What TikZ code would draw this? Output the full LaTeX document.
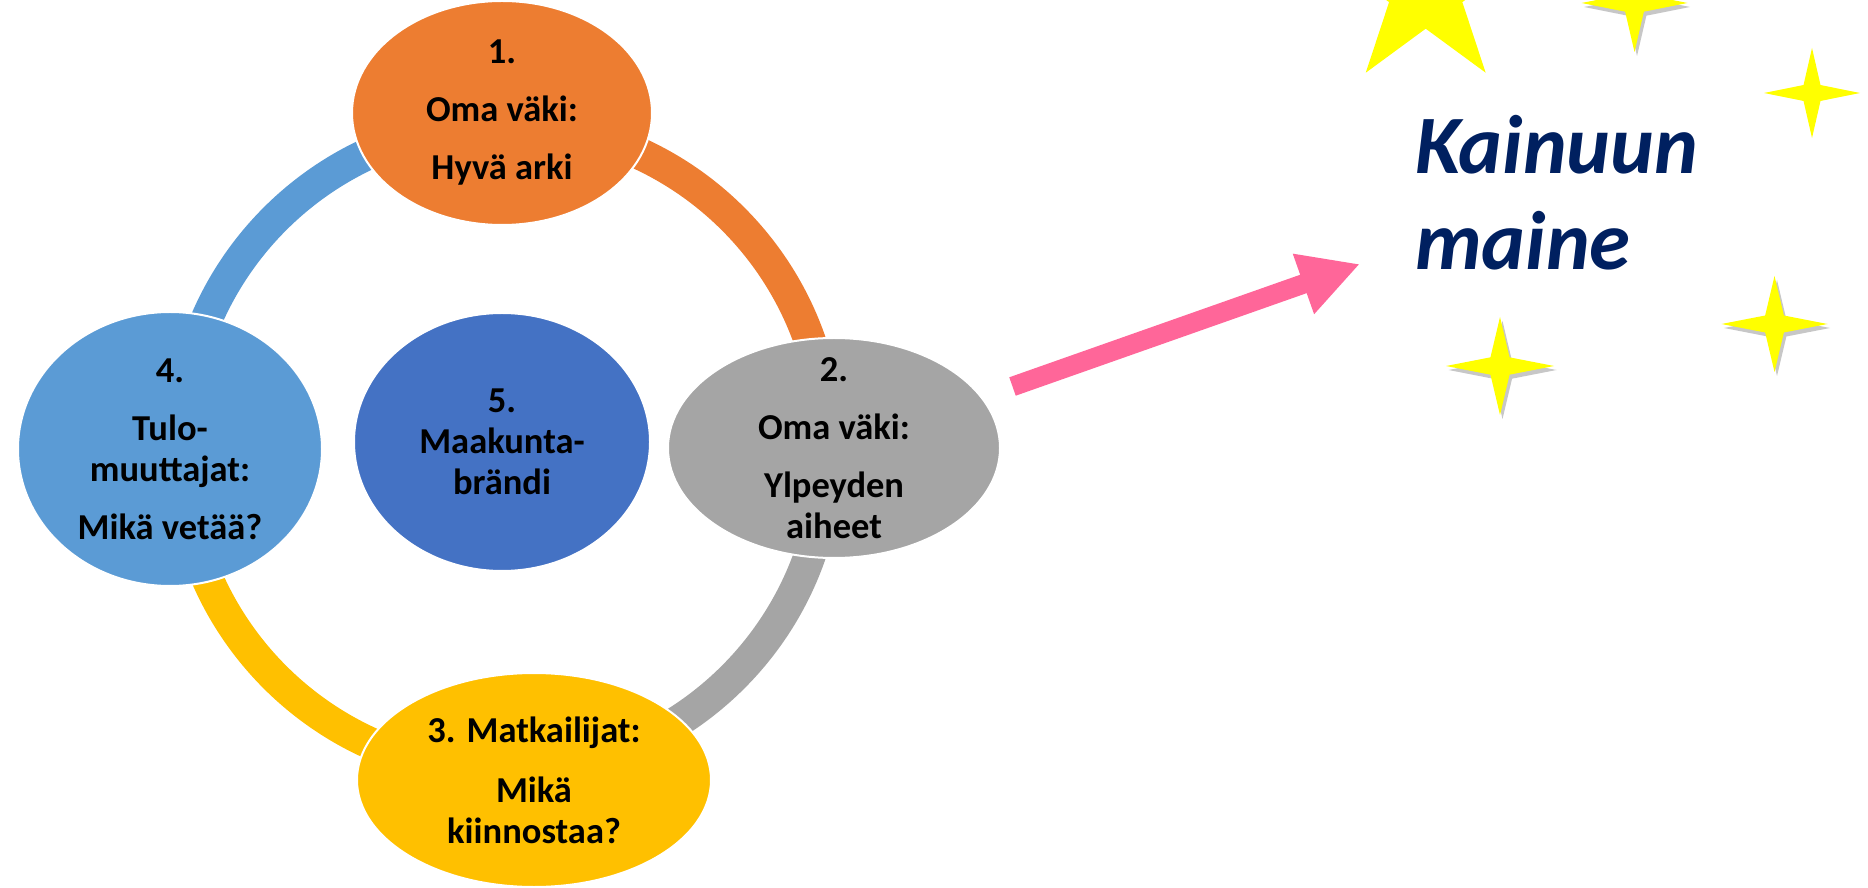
\documentclass[tikz,border=0pt]{standalone}
\usepackage{fontspec}
\setmainfont{Carlito}
\usetikzlibrary{shapes.geometric,arrows.meta}
\definecolor{cOrange}{HTML}{ED7D31}
\definecolor{cGray}{HTML}{A5A5A5}
\definecolor{cYellow}{HTML}{FFC000}
\definecolor{cLBlue}{HTML}{5B9BD5}
\definecolor{cDBlue}{HTML}{4472C4}
\definecolor{cPink}{HTML}{FF6699}
\definecolor{cStar}{HTML}{FFFF00}
\definecolor{cNavy}{HTML}{002060}
\newcommand\fourstar[5]{%
  \begin{scope}[shift={(#1,#2)},xscale=#3,yscale=#4]
    \fill[#5] (1,0) -- (.177,.177) -- (0,1) -- (-.177,.177) -- (-1,0) -- (-.177,-.177) -- (0,-1) -- (.177,-.177) -- cycle;
  \end{scope}}
\begin{document}
\begin{tikzpicture}[x=1pt,y=1pt,
  bubble/.style={ellipse, draw=white, line width=2pt, inner sep=0pt},
  bubbletext/.style={align=center, font=\bfseries\fontsize{36.5pt}{41pt}\selectfont, inner sep=0pt, text=black},
  ring/.style={line width=32pt},
  starfill/.style={fill=cStar},
  starshadow/.style={fill=black, opacity=0.22},
  headline/.style={font=\bfseries\itshape\fontsize{83pt}{96pt}\selectfont, text=cNavy, anchor=base west, inner sep=0pt}]
\clip (0,0) rectangle (1868,887);
\fill[white] (0,0) rectangle (1868,887);
% ring
\coordinate (c) at (504,439);
\draw[ring,cOrange] (c) ++(90:324) arc[start angle=90,end angle=0,radius=324];
\draw[ring,cGray] (c) ++(0:324) arc[start angle=0,end angle=-90,radius=324];
\draw[ring,cYellow] (c) ++(-90:324) arc[start angle=-90,end angle=-180,radius=324];
\draw[ring,cLBlue] (c) ++(180:324) arc[start angle=180,end angle=90,radius=324];
% bubbles
\node[bubble, fill=cOrange, minimum width=300pt, minimum height=224pt] (e1) at (502,774) {};
\node[bubble, fill=cGray, minimum width=332pt, minimum height=220pt] (e2) at (834,439) {};
\node[bubble, fill=cYellow, minimum width=354pt, minimum height=214pt] (e3) at (534,107) {};
\node[bubble, fill=cLBlue, minimum width=304pt, minimum height=274pt] (e4) at (170,438) {};
\node[bubble, fill=cDBlue, minimum width=296pt, minimum height=258pt] (e5) at (502,445) {};
\node[bubbletext] (t1) at (e1) {1.\\[17pt]Oma väki:\\[17pt]Hyvä arki};
\node[bubbletext] (t2) at (e2) {2.\\[17pt]Oma väki:\\[17pt]Ylpeyden\\aiheet};
\node[bubbletext] (t3) at (e3) {3. Matkailijat:\\[19pt]Mikä\\kiinnostaa?};
\node[bubbletext] (t4) at (e4) {4.\\[17pt]Tulo-\\muuttajat:\\[17pt]Mikä vetää?};
\node[bubbletext] (t5) at (e5) {5.\\Maakunta-\\brändi};
% arrow
\coordinate (atail) at (1012.5,500.5);
\coordinate (atip) at (1360,623);
\draw[cPink, line width=19.5pt, -{Triangle[length=60pt,width=59.5pt]}] (atail) -- (atip);
% big star
\begin{scope}[shift={(1425.7,896.8)}]
  \fill[cStar] (90:102) -- (126:38.5) -- (162:102) -- (198:38.5) -- (234:102) -- (270:38.5) -- (306:102) -- (342:38.5) -- (18:102) -- (54:38.5) -- cycle;
\end{scope}
% small stars
\fourstar{1637}{880}{53}{49}{starshadow}
\fourstar{1634.5}{884}{53}{49}{starfill}
\fourstar{1812}{794}{48}{45}{starfill}
\fourstar{1502.5}{517}{54}{49}{starshadow}
\fourstar{1500}{521}{54}{49}{starfill}
\fourstar{1777}{559}{53}{48}{starshadow}
\fourstar{1774.5}{563}{53}{48}{starfill}
% headline
\node[headline] (k1) at (1415,713) {Kainuun};
\node[headline] (k2) at (1415,617) {maine};
\end{tikzpicture}
\end{document}
